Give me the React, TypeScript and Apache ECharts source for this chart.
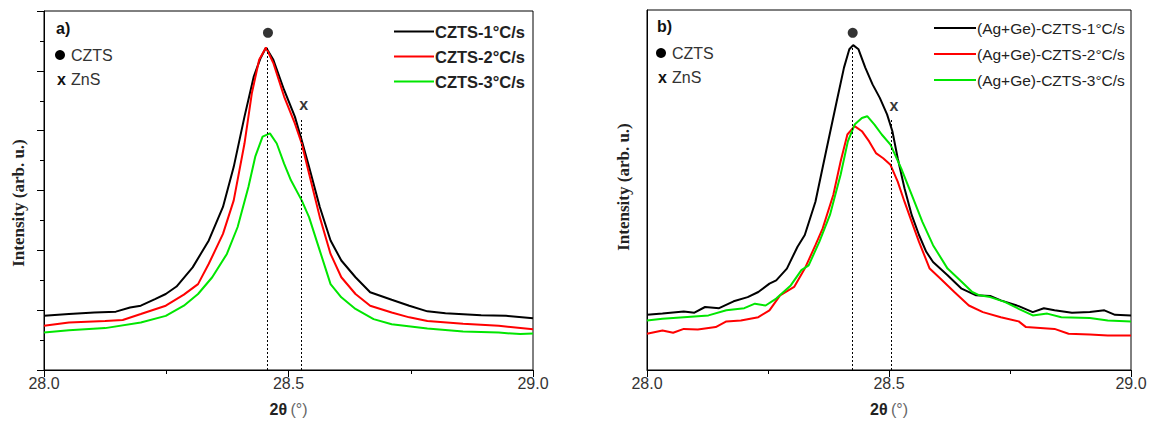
import React, { useEffect, useRef } from "react";
import * as echarts from "echarts";

// ---------- data (2θ in degrees, intensity in arbitrary units) ----------
const A_NAMES = ["CZTS-1°C/s", "CZTS-2°C/s", "CZTS-3°C/s"];
const B_NAMES = ["(Ag+Ge)-CZTS-1°C/s", "(Ag+Ge)-CZTS-2°C/s", "(Ag+Ge)-CZTS-3°C/s"];
const COLORS = ["#000000", "#ff0000", "#00e600"];

const A1: number[][] = [
  [28.0, 1.81], [28.051, 1.87], [28.103, 1.92], [28.147, 1.95], [28.176, 2.09], [28.198, 2.15],
  [28.227, 2.37], [28.249, 2.54], [28.271, 2.79], [28.304, 3.43], [28.337, 4.33], [28.366, 5.45],
  [28.388, 6.79], [28.41, 8.47], [28.429, 9.81], [28.443, 10.43], [28.454, 10.78], [28.469, 10.37],
  [28.491, 9.36], [28.513, 8.47], [28.527, 7.68], [28.542, 6.79], [28.564, 5.45], [28.586, 4.33],
  [28.608, 3.66], [28.637, 3.1], [28.667, 2.6], [28.711, 2.35], [28.747, 2.15], [28.784, 1.96],
  [28.821, 1.9], [28.894, 1.83], [28.945, 1.81], [29.0, 1.73],
];
const A2: number[][] = [
  [28.0, 1.48], [28.051, 1.59], [28.125, 1.64], [28.161, 1.67], [28.198, 1.87], [28.249, 2.15],
  [28.286, 2.52], [28.315, 2.87], [28.337, 3.55], [28.366, 4.55], [28.388, 5.67], [28.41, 7.57],
  [28.425, 9.25], [28.44, 10.37], [28.454, 10.78], [28.469, 10.26], [28.491, 9.14], [28.513, 8.24],
  [28.527, 7.57], [28.542, 6.57], [28.564, 5.11], [28.586, 3.88], [28.608, 3.1], [28.637, 2.54],
  [28.667, 2.15], [28.711, 1.92], [28.747, 1.76], [28.784, 1.64], [28.857, 1.55], [28.93, 1.48],
  [29.0, 1.36],
];
const A3: number[][] = [
  [28.0, 1.25], [28.051, 1.33], [28.125, 1.4], [28.198, 1.59], [28.249, 1.81], [28.286, 2.15],
  [28.315, 2.54], [28.344, 3.1], [28.374, 3.88], [28.396, 4.78], [28.418, 6.12], [28.432, 7.13],
  [28.447, 7.8], [28.462, 7.91], [28.476, 7.57], [28.491, 6.9], [28.505, 6.34], [28.527, 5.67],
  [28.542, 5.11], [28.564, 3.99], [28.586, 2.87], [28.608, 2.43], [28.637, 2.04], [28.674, 1.7],
  [28.711, 1.53], [28.784, 1.39], [28.857, 1.29], [28.93, 1.25], [28.974, 1.2], [29.0, 1.22],
];

const B1: number[][] = [
  [28.0, 1.84], [28.032, 1.88], [28.076, 1.95], [28.098, 1.91], [28.12, 2.1], [28.149, 2.06],
  [28.179, 2.29], [28.208, 2.43], [28.23, 2.6], [28.253, 2.88], [28.267, 2.99], [28.289, 3.38],
  [28.311, 4.11], [28.326, 4.5], [28.348, 5.61], [28.37, 7.29], [28.392, 8.96], [28.407, 10.08],
  [28.418, 10.69], [28.426, 10.83], [28.437, 10.69], [28.451, 10.08], [28.466, 9.52], [28.481, 9.07],
  [28.496, 8.52], [28.507, 7.96], [28.518, 7.06], [28.532, 6.06], [28.547, 5.16], [28.562, 4.5],
  [28.577, 3.94], [28.591, 3.6], [28.621, 3.16], [28.65, 2.71], [28.68, 2.49], [28.709, 2.47],
  [28.731, 2.32], [28.768, 2.13], [28.797, 1.93], [28.82, 2.06], [28.842, 1.99], [28.878, 1.91],
  [28.915, 1.93], [28.945, 1.99], [28.967, 1.84], [29.0, 1.82],
];
const B2: number[][] = [
  [28.0, 1.21], [28.032, 1.32], [28.054, 1.24], [28.076, 1.37], [28.105, 1.35], [28.142, 1.43],
  [28.164, 1.62], [28.194, 1.65], [28.23, 1.76], [28.253, 1.99], [28.275, 2.49], [28.304, 2.77],
  [28.326, 3.38], [28.348, 4.16], [28.363, 4.72], [28.385, 5.84], [28.4, 6.95], [28.414, 7.85],
  [28.429, 8.13], [28.444, 7.96], [28.459, 7.62], [28.473, 7.23], [28.488, 7.06], [28.503, 6.84],
  [28.518, 6.28], [28.532, 5.61], [28.547, 4.94], [28.562, 4.27], [28.584, 3.38], [28.606, 3.05],
  [28.635, 2.6], [28.665, 2.15], [28.694, 1.93], [28.731, 1.76], [28.768, 1.62], [28.783, 1.43],
  [28.842, 1.37], [28.871, 1.21], [28.915, 1.18], [28.952, 1.15], [29.0, 1.15],
];
const B3: number[][] = [
  [28.0, 1.65], [28.032, 1.71], [28.076, 1.76], [28.127, 1.82], [28.164, 1.99], [28.201, 2.06],
  [28.223, 2.21], [28.245, 2.15], [28.267, 2.38], [28.297, 2.82], [28.319, 3.33], [28.334, 3.49],
  [28.356, 4.27], [28.378, 5.17], [28.4, 6.51], [28.415, 7.62], [28.429, 8.18], [28.444, 8.4],
  [28.455, 8.46], [28.47, 8.18], [28.485, 7.85], [28.503, 7.51], [28.525, 6.73], [28.547, 5.84],
  [28.569, 4.94], [28.591, 4.16], [28.621, 3.38], [28.65, 2.94], [28.672, 2.6], [28.687, 2.49],
  [28.709, 2.43], [28.739, 2.27], [28.768, 2.04], [28.797, 1.82], [28.827, 1.88], [28.856, 1.76],
  [28.915, 1.73], [28.952, 1.65], [29.0, 1.62],
];

// reference (peak) lines: [2θ, top of dotted line]
const PEAKS_A: number[][] = [[28.456, 10.82], [28.526, 8.36]];
const PEAKS_B: number[][] = [[28.424, 10.8], [28.505, 8.4]];
// phase markers: CZTS dot, ZnS cross
const CZTS_MARK_A = [28.458, 11.27];
const ZNS_MARK_A = [28.531, 8.86];
const CZTS_MARK_B = [28.425, 11.24];
const ZNS_MARK_B = [28.51, 8.83];

const X_MIN = 28.0;
const X_MAX = 29.0;
const Y_MIN = 0;
const Y_MAX = 12;
const Y_TITLE = "Intensity (arb. u.)";

const SANS = "Arial, 'Liberation Sans', sans-serif";
const SERIF = "'Liberation Serif', 'Times New Roman', serif";

function xAxis(gridIndex: number) {
  return {
    type: "value",
    gridIndex,
    min: X_MIN,
    max: X_MAX,
    interval: 0.5,
    axisLine: { show: true, onZero: false, lineStyle: { color: "#000", width: 1 } },
    axisTick: { show: true, length: 7, lineStyle: { color: "#000", width: 1 } },
    minorTick: { show: true, splitNumber: 2, length: 4, lineStyle: { color: "#000", width: 1 } },
    splitLine: { show: false },
    axisLabel: {
      formatter: (v: number) => v.toFixed(1),
      color: "#333",
      fontSize: 16,
      fontFamily: SANS,
      margin: 5,
    },
    name: "{b|2θ} {n|(°)}",
    nameLocation: "middle",
    nameGap: 31,
    nameTextStyle: {
      rich: {
        b: { fontSize: 16, fontWeight: "bold", color: "#222", fontFamily: SANS },
        n: { fontSize: 16, color: "#666", fontFamily: SANS },
      },
    },
  };
}

function yAxis(gridIndex: number, ticks: boolean) {
  return {
    type: "value",
    gridIndex,
    min: Y_MIN,
    max: Y_MAX,
    interval: 2,
    axisLine: { show: true, onZero: false, lineStyle: { color: "#000", width: 1 } },
    axisTick: { show: ticks, length: 7, lineStyle: { color: "#000", width: 1 } },
    minorTick: { show: ticks, splitNumber: 2, length: 4, lineStyle: { color: "#000", width: 1 } },
    splitLine: { show: false },
    axisLabel: { show: false },
  };
}

function lineSeries(name: string, data: number[][], color: string, idx: number) {
  return {
    type: "line",
    name,
    data,
    xAxisIndex: idx,
    yAxisIndex: idx,
    showSymbol: false,
    symbol: "none",
    smooth: false,
    lineStyle: { color, width: 2 },
    itemStyle: { color },
    z: 3,
  };
}

function peakLines(peaks: number[][], idx: number) {
  return {
    type: "line",
    name: "peaks" + idx,
    data: [],
    xAxisIndex: idx,
    yAxisIndex: idx,
    silent: true,
    markLine: {
      symbol: ["none", "none"],
      silent: true,
      animation: false,
      label: { show: false },
      lineStyle: { type: [2, 2], color: "#000", width: 1 },
      data: peaks.map((p) => [{ coord: [p[0], 0] }, { coord: [p[0], p[1]] }]),
    },
    z: 2,
  };
}

function markerSeries(czts: number[], zns: number[], idx: number) {
  return [
    {
      type: "scatter",
      name: "czts" + idx,
      xAxisIndex: idx,
      yAxisIndex: idx,
      data: [czts],
      symbol: "circle",
      symbolSize: 10,
      itemStyle: { color: "#000" },
      silent: true,
      z: 4,
    },
    {
      type: "scatter",
      name: "zns" + idx,
      xAxisIndex: idx,
      yAxisIndex: idx,
      data: [zns],
      symbol: "circle",
      symbolSize: 1,
      itemStyle: { color: "rgba(0,0,0,0)" },
      label: {
        show: true,
        position: "inside",
        formatter: "x",
        fontSize: 16,
        fontWeight: "bold",
        color: "#000",
        fontFamily: SANS,
      },
      silent: true,
      z: 4,
    },
  ];
}

function annotations(left: number, top: number, tag: string) {
  return [
    {
      type: "text",
      left: left,
      top: top,
      style: { text: tag, font: `bold 16px ${SANS}`, fill: "#111" },
    },
    {
      type: "circle",
      shape: { cx: left + 4, cy: top + 35, r: 5 },
      style: { fill: "#000" },
    },
    {
      type: "text",
      left: left + 15,
      top: top + 27,
      style: { text: "CZTS", font: `16px ${SANS}`, fill: "#333" },
    },
    {
      type: "text",
      left: left + 1,
      top: top + 51,
      style: { text: "x", font: `bold 16px ${SANS}`, fill: "#111" },
    },
    {
      type: "text",
      left: left + 15,
      top: top + 51,
      style: { text: "ZnS", font: `16px ${SANS}`, fill: "#333" },
    },
  ];
}

function yTitle(cx: number, cy: number) {
  return {
    type: "text",
    x: cx,
    y: cy,
    rotation: Math.PI / 2,
    style: {
      text: Y_TITLE,
      font: `bold 17px ${SERIF}`,
      fill: "#222",
      align: "center",
      verticalAlign: "middle",
      textAlign: "center",
      textVerticalAlign: "middle",
    },
  };
}

export default function App() {
  const ref = useRef<HTMLDivElement>(null);

  useEffect(() => {
    document.body.style.margin = "0";
    if (!ref.current) return;
    const chart = echarts.init(ref.current, null, { renderer: "svg" });
    const seriesA = [A1, A2, A3].map((d, i) => lineSeries(A_NAMES[i], d, COLORS[i], 0));
    const seriesB = [B1, B2, B3].map((d, i) => lineSeries(B_NAMES[i], d, COLORS[i], 1));

    chart.setOption({
      animation: false,
      backgroundColor: "#fff",
      grid: [
        { left: 44, right: 618, top: 11, bottom: 57, show: true, borderColor: "#000", borderWidth: 1, backgroundColor: "transparent" },
        { left: 647, right: 20, top: 10, bottom: 57, show: true, borderColor: "#000", borderWidth: 1, backgroundColor: "transparent" },
      ],
      xAxis: [xAxis(0), xAxis(1)],
      yAxis: [yAxis(0, true), yAxis(1, false)],
      legend: [
        {
          data: A_NAMES,
          left: 389,
          top: 18,
          orient: "vertical",
          itemWidth: 40,
          itemHeight: 14,
          itemGap: 8,
          icon: "path://M0,6 L40,6 L40,8 L0,8 Z",
          textStyle: { fontFamily: SANS, fontWeight: "bold", fontSize: 16.5, color: "#222", padding: [0, 0, 0, -4] },
        },
        {
          data: B_NAMES,
          left: 929,
          top: 15,
          orient: "vertical",
          itemWidth: 42,
          itemHeight: 14,
          itemGap: 10,
          icon: "path://M0,6 L42,6 L42,8 L0,8 Z",
          textStyle: { fontFamily: SANS, fontSize: 15.5, color: "#222", padding: [0, 0, 0, -4] },
        },
      ],
      graphic: [
        ...annotations(56, 20, "a)"),
        ...annotations(657, 18, "b)"),
        yTitle(18, 203),
        yTitle(623, 187),
      ],
      series: [
        ...seriesA,
        ...seriesB,
        peakLines(PEAKS_A, 0),
        peakLines(PEAKS_B, 1),
        ...markerSeries(CZTS_MARK_A, ZNS_MARK_A, 0),
        ...markerSeries(CZTS_MARK_B, ZNS_MARK_B, 1),
      ],
    });
    return () => chart.dispose();
  }, []);

  return <div ref={ref} style={{ width: 1151, height: 427 }} />;
}
